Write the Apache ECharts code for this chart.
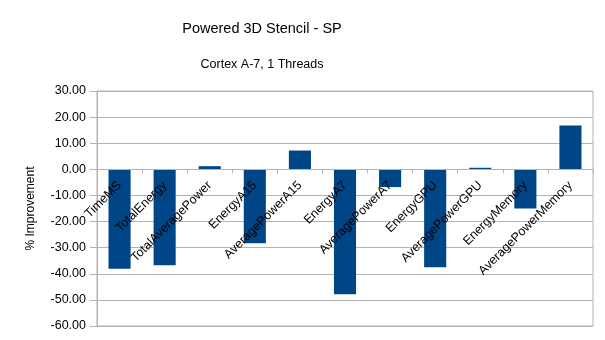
<!DOCTYPE html>
<html>
<head>
<meta charset="utf-8">
<script src="https://cdn.jsdelivr.net/npm/echarts@6/dist/echarts.min.js"></script>
<style>
  html, body { margin: 0; padding: 0; background: #fff; }
  #chart { width: 605px; height: 340px; }
</style>
</head>
<body>
<div id="chart"></div>
<script>
// Percentage improvement per metric
const categories = [
  'TimeMS', 'TotalEnergy', 'TotalAveragePower', 'EnergyA15', 'AveragePowerA15',
  'EnergyA7', 'AveragePowerA7', 'EnergyGPU', 'AveragePowerGPU', 'EnergyMemory',
  'AveragePowerMemory'
];
const improvement = [-38.1, -36.7, 1.2, -28.3, 7.2, -47.8, -6.8, -37.5, 0.6, -15.0, 16.8];

const titleText = 'Powered 3D Stencil - SP';
const subtitleText = 'Cortex A-7, 1 Threads';
const yAxisName = '% Improvement';
const yMin = -60, yMax = 30, yStep = 10;

const font = '"Liberation Sans", Arial, sans-serif';
const gridColor = '#b3b3b3';

// Plot rectangle
const W = 605, H = 340;
const gridBox = { left: 97, right: 12, top: 91, bottom: 14 };
const plotHeight = H - gridBox.top - gridBox.bottom;
// Lift the category axis from the bottom edge up to the zero line
const zeroLift = plotHeight * (0 - yMin) / (yMax - yMin);

const chart = echarts.init(document.getElementById('chart'), null, { renderer: 'canvas' });
chart.setOption({
  animation: false,
  backgroundColor: '#ffffff',
  textStyle: { fontFamily: font },
  title: [
    {
      text: titleText, left: 262, top: 21, padding: 0, textAlign: 'center',
      textStyle: { fontFamily: font, fontSize: 14.5, fontWeight: 'normal', color: '#000' }
    },
    {
      text: subtitleText, left: 262, top: 58, padding: 0, textAlign: 'center',
      textStyle: { fontFamily: font, fontSize: 12.5, fontWeight: 'normal', color: '#000' }
    }
  ],
  grid: {
    left: gridBox.left, right: gridBox.right, top: gridBox.top, bottom: gridBox.bottom,
    containLabel: false,
    outerBoundsMode: 'none',
    show: true, borderColor: gridColor, borderWidth: 1, backgroundColor: 'transparent'
  },
  xAxis: {
    type: 'category',
    data: categories,
    boundaryGap: true,
    position: 'bottom',
    offset: -zeroLift,
    z: 10,
    axisLine: { onZero: false, lineStyle: { color: gridColor, width: 1 } },
    axisTick: { show: true, alignWithLabel: false, length: 4, lineStyle: { color: gridColor } },
    axisLabel: {
      interval: 0, rotate: 45, margin: 14,
      fontFamily: font, fontSize: 12.5, color: '#000'
    },
    splitLine: { show: false }
  },
  yAxis: {
    type: 'value',
    min: yMin, max: yMax, interval: yStep,
    name: yAxisName,
    nameLocation: 'middle',
    nameGap: 60,
    nameTextStyle: { fontFamily: font, fontSize: 12, color: '#000' },
    axisLine: { show: true, onZero: false, lineStyle: { color: gridColor } },
    axisTick: { show: true, length: 7, lineStyle: { color: gridColor } },
    axisLabel: {
      margin: 11, fontFamily: font, fontSize: 12.5, color: '#000',
      formatter: v => v.toFixed(2)
    },
    splitLine: { show: true, lineStyle: { color: gridColor, width: 1 } }
  },
  series: [{
    type: 'bar',
    data: improvement,
    barWidth: '49%',
    z: 2,
    itemStyle: { color: '#004586' }
  }]
});
</script>
</body>
</html>
